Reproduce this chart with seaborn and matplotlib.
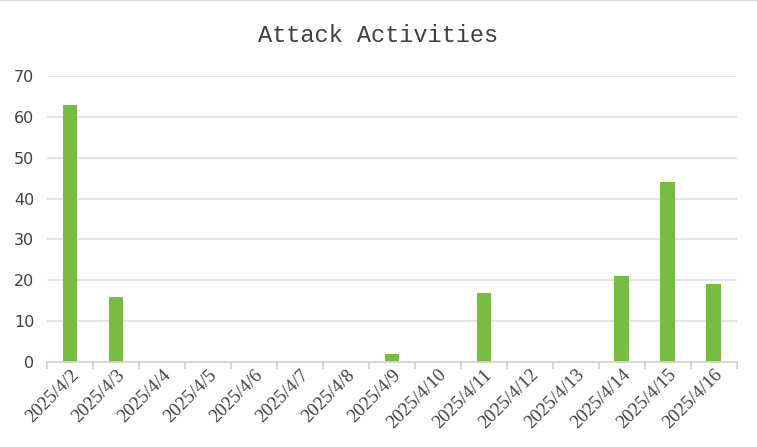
import numpy as np
import pandas as pd
import matplotlib
matplotlib.use("Agg")
import matplotlib.pyplot as plt
from matplotlib.lines import Line2D
import seaborn as sns

dates = ["2025/4/2", "2025/4/3", "2025/4/4", "2025/4/5", "2025/4/6", "2025/4/7", "2025/4/8",
         "2025/4/9", "2025/4/10", "2025/4/11", "2025/4/12", "2025/4/13", "2025/4/14",
         "2025/4/15", "2025/4/16"]
attacks = [63, 16, 0, 0, 0, 0, 0, 2, 0, 17, 0, 0, 21, 44, 19]
y_ticks = [0, 10, 20, 30, 40, 50, 60, 70]

df = pd.DataFrame({"date": dates, "count": attacks})

sns.set_style("white")
fig = plt.figure(figsize=(7.57, 4.47), dpi=100)
ax = fig.add_axes([0.062, 0.19, 0.911, 0.64])

sns.barplot(data=df, x="date", y="count", color="#78BC42", width=0.31, saturation=1,
            linewidth=0, ax=ax, zorder=3)

ax.set_ylim(0, 70)
ax.set_xlim(-0.5, len(dates) - 0.5)
ax.set_yticks(y_ticks)
ax.yaxis.grid(True, color="#e3e3e3", linewidth=1.3, zorder=0)
ax.set_axisbelow(True)
for s in ["top", "right", "left"]:
    ax.spines[s].set_visible(False)
ax.spines["bottom"].set_color("#d4d4d4")
ax.spines["bottom"].set_linewidth(1.3)
ax.spines["bottom"].set_zorder(4)

# excel style ticks between categories
ax.set_xticks(range(len(dates)))
ax.set_xticks(np.arange(-0.5, len(dates), 1.0), minor=True)
ax.tick_params(axis="x", which="minor", bottom=True, length=5, width=1.3, color="#d4d4d4", direction="out")
ax.tick_params(axis="x", which="major", bottom=True, length=0, pad=3)
ax.tick_params(axis="y", length=0, pad=9)
ax.set_xticklabels(dates, rotation=45, ha="right", rotation_mode="anchor",
                   family="Liberation Serif", fontsize=13.5, color="#404040")
for lbl in ax.get_yticklabels():
    lbl.set_fontsize(11.5)
    lbl.set_color("#404040")
    lbl.set_family("DejaVu Sans")
ax.set_xlabel("")
ax.set_ylabel("")

fig.text(0.5, 0.92, "Attack Activities", ha="center", va="center",
         family="Liberation Mono", fontsize=17, color="#404040")
fig.add_artist(Line2D([0, 1], [0.999, 0.999], color="#d9d9d9", linewidth=1.5, transform=fig.transFigure))

fig.savefig("out.png", dpi=100)
